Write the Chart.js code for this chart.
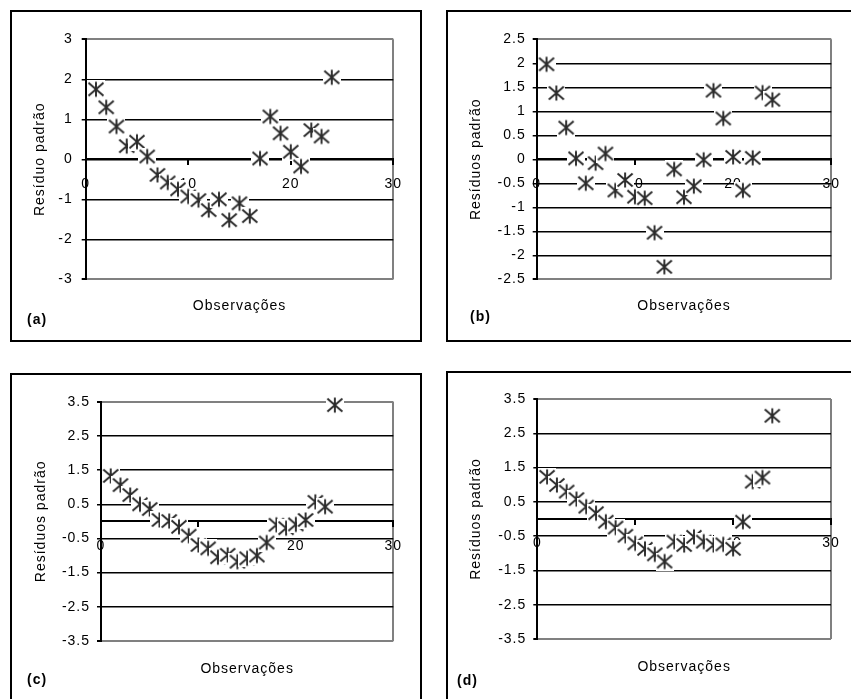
<!DOCTYPE html>
<html lang="pt">
<head>
<meta charset="utf-8">
<title>Resíduos padrão</title>
<script src="https://cdn.jsdelivr.net/npm/chart.js@4.4.1/dist/chart.umd.min.js"></script>
<style>
  html, body { margin: 0; padding: 0; background: #fff; overflow: hidden; }
  body { width: 851px; height: 699px; position: relative; }
  .quadro { position: absolute; border: 2px solid #000; }
  .quadro canvas { position: absolute; left: 0; top: 0; }
  .letra { position: absolute; font: bold 14px "Liberation Sans", Arial, sans-serif; letter-spacing: 1px; line-height: 16px; color: #000; }
</style>
</head>
<body>
<div class="quadro" style="left:10px; top:10px; width:408px; height:328px"><canvas id="graficoA" width="408" height="328"></canvas></div>
<div class="quadro" style="left:446px; top:10px; width:406px; height:328px"><canvas id="graficoB" width="406" height="328"></canvas></div>
<div class="quadro" style="left:10px; top:373px; width:408px; height:336px"><canvas id="graficoC" width="408" height="336"></canvas></div>
<div class="quadro" style="left:446px; top:371px; width:406px; height:336px"><canvas id="graficoD" width="406" height="336"></canvas></div>
<div class="letra" style="left:27px; top:311px">(a)</div>
<div class="letra" style="left:470px; top:308px">(b)</div>
<div class="letra" style="left:27px; top:671px">(c)</div>
<div class="letra" style="left:457px; top:672px">(d)</div>
<script>
const observacoes = [1, 2, 3, 4, 5, 6, 7, 8, 9, 10, 11, 12, 13, 14, 15, 16, 17, 18, 19, 20, 21, 22, 23, 24];
const residuosA = [1.75, 1.3, 0.82, 0.33, 0.44, 0.07, -0.39, -0.58, -0.75, -0.93, -1.02, -1.27, -1.0, -1.52, -1.1, -1.42, 0.02, 1.07, 0.65, 0.19, -0.18, 0.73, 0.57, 2.05];
const residuosB = [1.98, 1.38, 0.66, 0.02, -0.5, -0.08, 0.12, -0.65, -0.43, -0.78, -0.81, -1.53, -2.24, -0.21, -0.79, -0.56, -0.01, 1.43, 0.85, 0.05, -0.65, 0.03, 1.39, 1.24];
const residuosC = [1.33, 1.06, 0.77, 0.5, 0.36, 0.04, 0.01, -0.16, -0.42, -0.69, -0.79, -1.05, -0.98, -1.18, -1.08, -1.0, -0.62, -0.1, -0.2, -0.09, 0.04, 0.57, 0.43, 3.4];
const residuosD = [1.23, 0.99, 0.8, 0.58, 0.36, 0.17, -0.08, -0.25, -0.49, -0.71, -0.87, -1.03, -1.24, -0.66, -0.76, -0.52, -0.66, -0.76, -0.74, -0.87, -0.08, 1.09, 1.21, 3.01];

const ticksX = [0, 10, 20, 30];
const ticksA = [-3, -2, -1, 0, 1, 2, 3];
const ticksB = [-2.5, -2, -1.5, -1, -0.5, 0, 0.5, 1, 1.5, 2, 2.5];
const ticksCD = [-3.5, -2.5, -1.5, -0.5, 0.5, 1.5, 2.5, 3.5];

Chart.defaults.font.family = '"Liberation Sans", Arial, sans-serif';
Chart.defaults.font.size = 14;
Chart.defaults.color = '#000';

// espaçamento entre letras como no original
const espacamento = {
    id: 'espacamento',
    beforeUpdate(chart) {
        chart.ctx.letterSpacing = '1px';
    }
};

// asterisco com fundo branco (marcador do Excel)
function criarMarcador() {
    const c = document.createElement('canvas');
    c.width = 18;
    c.height = 18;
    const g = c.getContext('2d');
    g.fillStyle = '#fff';
    g.fillRect(0, 0, 18, 18);
    g.strokeStyle = '#2a2a2a';
    g.lineWidth = 1.9;
    g.beginPath();
    g.moveTo(1.5, 2.5); g.lineTo(16.5, 15.5);
    g.moveTo(1.5, 15.5); g.lineTo(16.5, 2.5);
    g.moveTo(9, 1.5); g.lineTo(9, 16.5);
    g.stroke();
    return c;
}
const marcador = criarMarcador();

function desenharPainel(id, residuos, ticksY, tituloY, g) {
    const meiaLinha = 14 * 1.2 / 2;
    const padEsq = g.tituloYx - meiaLinha;
    const padTitulo = g.tituloXy - g.baixo - meiaLinha;
    const minY = ticksY[0];
    const maxY = ticksY[ticksY.length - 1];
    const maxX = ticksX[ticksX.length - 1];

    return new Chart(document.getElementById(id), {
        type: 'scatter',
        data: {
            datasets: [{
                data: observacoes.map((x, i) => ({ x: x, y: residuos[i] })),
                pointStyle: marcador,
                pointRadius: 9,
                pointHoverRadius: 9,
                clip: false
            }]
        },
        options: {
            responsive: false,
            animation: false,
            layout: {
                padding: {
                    left: padEsq,
                    top: g.topo,
                    right: g.w - g.dir,
                    bottom: g.h - g.baixo - padTitulo - 2 * meiaLinha
                }
            },
            plugins: {
                legend: { display: false },
                tooltip: { enabled: false },
                title: {
                    display: true,
                    text: 'Observações',
                    position: 'bottom',
                    fullSize: false,
                    font: { size: 14, weight: 'normal' },
                    color: '#000',
                    padding: { top: padTitulo, bottom: 0 }
                }
            },
            scales: {
                x: {
                    type: 'linear',
                    position: { y: 0 },
                    min: ticksX[0],
                    max: maxX,
                    afterBuildTicks: (s) => { s.ticks = ticksX.map(v => ({ value: v })); },
                    border: { color: '#000', width: 2 },
                    grid: {
                        color: (c) => c.tick && c.tick.value === maxX ? '#808080' : 'rgba(0,0,0,0)',
                        lineWidth: 2,
                        tickColor: '#000',
                        tickLength: 5
                    },
                    ticks: { padding: 11, maxRotation: 0 }
                },
                y: {
                    type: 'linear',
                    min: minY,
                    max: maxY,
                    afterBuildTicks: (s) => { s.ticks = ticksY.map(v => ({ value: v })); },
                    afterFit: (s) => { s.width = g.esq - padEsq; },
                    border: { color: '#000', width: 2 },
                    grid: {
                        color: (c) => c.tick && (c.tick.value === minY || c.tick.value === maxY) ? '#808080' : '#000',
                        lineWidth: (c) => c.tick && (c.tick.value === minY || c.tick.value === maxY) ? 2 : 1.5,
                        tickColor: '#000',
                        tickLength: 4
                    },
                    ticks: {
                        padding: g.tickPad,
                        callback: (v) => String(v)
                    },
                    title: {
                        display: true,
                        text: tituloY,
                        font: { size: 14 },
                        color: '#000',
                        padding: { top: 0, bottom: 0 }
                    }
                }
            }
        },
        plugins: [espacamento]
    });
}

desenharPainel('graficoA', residuosA, ticksA, 'Resíduo padrão',
    { w: 408, h: 328, esq: 73.7, dir: 381.3, topo: 27.3, baixo: 267.3, tituloYx: 28.5, tituloXy: 294, tickPad: 9 });
desenharPainel('graficoB', residuosB, ticksB, 'Resíduos padrão',
    { w: 406, h: 328, esq: 88.7, dir: 383.3, topo: 27.3, baixo: 267.3, tituloYx: 28.5, tituloXy: 294, tickPad: 7 });
desenharPainel('graficoC', residuosC, ticksCD, 'Resíduos padrão',
    { w: 408, h: 336, esq: 89, dir: 381.3, topo: 26.7, baixo: 266, tituloYx: 29.5, tituloXy: 294, tickPad: 7 });
desenharPainel('graficoD', residuosD, ticksCD, 'Resíduos padrão',
    { w: 406, h: 336, esq: 89.3, dir: 383, topo: 26, baixo: 266, tituloYx: 28.5, tituloXy: 294.5, tickPad: 7 });
</script>
</body>
</html>
